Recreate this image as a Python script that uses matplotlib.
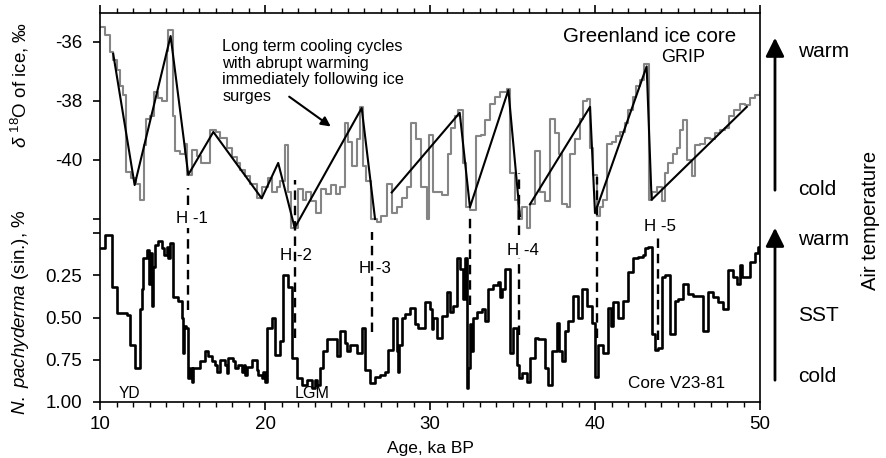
import numpy as np
import matplotlib
matplotlib.use("Agg")
import matplotlib.pyplot as plt
from matplotlib.ticker import MultipleLocator, FixedLocator

plt.rcParams['font.family'] = ['Liberation Sans', 'DejaVu Sans']
plt.rcParams['mathtext.fontset'] = 'custom'
plt.rcParams['mathtext.rm'] = 'Liberation Sans'
plt.rcParams['mathtext.it'] = 'Liberation Sans:italic'

# GRIP delta 18O record (step values, ka BP)
grip_age = [10.0, 10.3, 10.6, 10.8, 11.0, 11.2, 11.4, 11.55, 11.9, 12.2, 12.4, 12.65, 12.8, 13.0,
            13.25, 13.5, 13.75, 14.05, 14.15, 14.4, 14.55, 14.85, 15.15, 15.3, 15.55, 15.85, 16.15,
            16.65, 17.0, 17.3, 17.7, 18.0, 18.3, 18.5, 18.8, 19.1, 19.5, 19.8, 20.0, 20.2, 20.4,
            20.7, 20.9, 21.2, 21.4, 21.6, 22.0, 22.3, 22.5, 22.8, 23.1, 23.4, 23.7, 24.0, 24.3,
            24.55, 24.85, 25.05, 25.25, 25.55, 25.75, 25.95, 26.15, 26.45, 26.8, 27.05, 27.4, 27.7,
            28.0, 28.3, 28.6, 28.85, 29.15, 29.45, 29.8, 29.95, 30.2, 30.4, 30.7, 31.1, 31.3, 31.5,
            31.7, 32.0, 32.2, 32.4, 32.8, 33.1, 33.35, 33.65, 33.95, 34.25, 34.65, 34.85, 35.15,
            35.35, 35.55, 35.85, 36.05, 36.35, 36.65, 36.95, 37.25, 37.55, 37.8, 38.0, 38.3, 38.5,
            38.8, 39.1, 39.3, 39.5, 39.7, 39.9, 40.1, 40.3, 40.5, 40.7, 41.0, 41.3, 41.5, 41.8,
            42.0, 42.3, 42.5, 42.75, 42.95, 43.25, 43.45, 43.75, 44.05, 44.25, 44.45, 44.75, 44.95,
            45.15, 45.35, 45.55, 45.85, 46.05, 46.35, 46.65, 46.95, 47.25, 47.55, 47.85, 48.15,
            48.45, 48.8, 49.1, 49.4, 49.7, 50.0]
grip_d18o = [-35.5, -35.75, -36.35, -36.6, -36.95, -37.5, -37.8, -40.4, -40.6, -40.8, -41.35, -39.5,
             -38.6, -38.5, -37.7, -37.9, -38.0, -36.3, -35.6, -38.5, -39.7, -39.8, -39.45, -40.5,
             -39.65, -39.85, -40.1, -39.0, -39.05, -39.25, -39.6, -39.9, -40.1, -40.35, -40.55,
             -40.8, -41.3, -40.9, -40.9, -40.6, -41.1, -40.9, -40.7, -39.5, -41.1, -42.3, -41.0,
             -41.35, -41.1, -41.4, -41.8, -41.0, -41.15, -40.85, -41.15, -40.9, -38.75, -39.4,
             -40.2, -39.3, -38.2, -40.2, -40.7, -42.0, -42.1, -41.9, -40.8, -41.8, -41.6, -41.3,
             -40.9, -38.75, -39.3, -40.9, -42.0, -39.15, -41.1, -41.1, -41.2, -39.8, -38.9, -38.5,
             -38.3, -40.1, -41.6, -41.7, -39.2, -39.15, -38.64, -38.1, -37.85, -37.7, -37.6, -40.45,
             -41.35, -42.0, -41.6, -42.3, -41.5, -39.7, -41.1, -41.4, -38.6, -39.1, -39.8, -41.5,
             -41.6, -39.8, -39.3, -38.6, -38.0, -37.95, -39.6, -40.5, -41.9, -41.6, -41.35, -39.45,
             -39.4, -39.2, -39.05, -38.75, -38.3, -37.85, -37.5, -37.3, -36.75, -41.35, -41.1,
             -40.9, -41.4, -40.45, -40.1, -39.8, -39.6, -39.0, -38.64, -40.0, -40.55, -39.5,
             -39.45, -39.25, -39.3, -39.1, -39.0, -38.9, -38.5, -38.3, -38.1, -38.15, -37.9, -37.8,
             -37.7]

# sawtooth cooling trends (nan = break)
trend_age = [10.8, 12.1, 14.28, 15.35, 16.87, 19.8, 20.8, 21.8, 25.86, 26.67, np.nan,
             27.68, 31.8, 32.42, 34.75, 35.45, np.nan, 36.06, 39.7, 40.0, 43.13, 43.43, 49.2]
trend_d18o = [-36.4, -40.85, -35.8, -40.5, -39.05, -41.3, -40.1, -42.3, -38.24, -42.0, np.nan,
              -41.1, -38.4, -41.6, -37.63, -41.9, np.nan, -41.5, -38.2, -41.8, -36.83, -41.35, -38.2]

# Core V23-81, N. pachyderma (sin.) fraction
np_age = [10.0, 10.3, 10.71, 11.01, 11.62, 11.82, 12.12, 12.42, 12.52, 12.63, 12.83, 12.95, 13.05,
          13.13, 13.23, 13.33, 13.54, 13.74, 13.9, 14.04, 14.12, 14.24, 14.44, 14.75, 14.95,
          15.05, 15.12, 15.2, 15.35, 15.45, 15.55, 15.66, 16.06, 16.36, 16.57, 16.77, 16.97,
          17.1, 17.27, 17.58, 17.68, 17.78, 18.08, 18.2, 18.38, 18.59, 18.7, 18.8, 18.89, 19.19,
          19.49, 19.6, 19.8, 19.9, 20.0, 20.1, 20.4, 20.6, 20.91, 21.11, 21.41, 21.62, 21.92,
          22.22, 22.53, 22.83, 23.0, 23.13, 23.33, 23.54, 23.74, 24.34, 24.55, 24.85, 24.95,
          25.15, 25.56, 25.86, 26.06, 26.36, 26.67, 26.97, 27.27, 27.47, 27.78, 27.98, 28.05,
          28.15, 28.28, 28.48, 28.79, 29.09, 29.29, 29.7, 30.0, 30.1, 30.2, 30.4, 30.71, 31.01,
          31.21, 31.41, 31.62, 31.82, 32.02, 32.12, 32.22, 32.3, 32.42, 32.5, 32.63, 32.83, 33.13,
          33.33, 33.54, 33.84, 34.14, 34.24, 34.34, 34.55, 34.85, 35.05, 35.25, 35.4, 35.56,
          35.86, 36.06, 36.36, 36.57, 36.97, 37.17, 37.37, 37.68, 37.8, 37.98, 38.18, 38.38,
          38.69, 38.99, 39.19, 39.49, 39.8, 40.0, 40.2, 40.51, 40.81, 40.95, 41.11, 41.41, 41.72,
          42.02, 42.32, 42.63, 42.93, 43.05, 43.23, 43.43, 43.64, 43.84, 44.04, 44.24, 44.55,
          44.85, 45.05, 45.35, 45.66, 45.96, 46.26, 46.57, 46.87, 47.17, 47.47, 47.78, 48.08,
          48.38, 48.59, 48.79, 48.9, 49.09, 49.39, 49.7, 49.9, 50.0]
np_frac = [0.09, 0.012, 0.32, 0.475, 0.485, 0.66, 0.80, 0.45, 0.33, 0.15, 0.10, 0.30, 0.12, 0.43,
           0.20, 0.07, 0.05, 0.09, 0.13, 0.08, 0.15, 0.06, 0.38, 0.40, 0.50, 0.71, 0.55, 0.56,
           0.86, 0.80, 0.88, 0.80, 0.76, 0.70, 0.73, 0.76, 0.78, 0.82, 0.75, 0.78, 0.83, 0.74,
           0.76, 0.80, 0.78, 0.82, 0.78, 0.84, 0.79, 0.75, 0.81, 0.84, 0.86, 0.82, 0.88, 0.56,
           0.50, 0.72, 0.64, 0.25, 0.32, 0.74, 0.86, 0.90, 0.87, 0.92, 0.87, 0.90, 0.80, 0.70,
           0.63, 0.73, 0.58, 0.65, 0.70, 0.66, 0.71, 0.56, 0.81, 0.89, 0.85, 0.84, 0.82, 0.69,
           0.50, 0.70, 0.82, 0.66, 0.50, 0.48, 0.446, 0.54, 0.56, 0.41, 0.45, 0.57, 0.50, 0.62,
           0.49, 0.35, 0.47, 0.43, 0.15, 0.21, 0.39, 0.15, 0.92, 0.80, 0.54, 0.70, 0.50, 0.47,
           0.45, 0.52, 0.33, 0.31, 0.29, 0.38, 0.33, 0.21, 0.71, 0.56, 0.78, 0.86, 0.83, 0.88,
           0.74, 0.62, 0.63, 0.80, 0.90, 0.70, 0.53, 0.70, 0.76, 0.58, 0.52, 0.37, 0.50, 0.33,
           0.43, 0.53, 0.85, 0.66, 0.71, 0.446, 0.55, 0.41, 0.50, 0.40, 0.23, 0.15, 0.14, 0.13,
           0.09, 0.08, 0.60, 0.69, 0.68, 0.26, 0.25, 0.60, 0.40, 0.39, 0.30, 0.36, 0.37, 0.37,
           0.58, 0.35, 0.38, 0.41, 0.45, 0.22, 0.26, 0.30, 0.19, 0.26, 0.26, 0.17, 0.12, 0.08,
           0.16]

# Heinrich events and other ice surges (age, dashed spans in axes fraction)
surge_age = [15.33, 21.8, 26.5, 32.4, 35.4, 40.1, 43.8]
surge_spans = [[(0.506, 0.550), (0.237, 0.447)],
               [(0.165, 0.571)],
               [(0.180, 0.437)],
               [(0.249, 0.481)],
               [(0.429, 0.589), (0.172, 0.370)],
               [(0.165, 0.578)],
               [(0.159, 0.424)]]
h_labels = ['H -1', 'H -2', 'H -3', 'H -4', 'H -5']
h_label_age = [15.58, 21.88, 26.67, 35.64, 43.94]
h_label_d18o = [-41.97, -43.25, -43.66, -43.05, -42.27]

fig = plt.figure(figsize=(8.86, 4.58), dpi=100)
rect = [100 / 886, 56 / 458, 660 / 886, 389 / 458]
ax = fig.add_axes(rect)
ax2 = fig.add_axes(rect, sharex=ax, frameon=False)
ax2.patch.set_visible(False)

ax.step(grip_age, grip_d18o, where='post', color='#858585', lw=1.5, zorder=2)
ax.plot(trend_age, trend_d18o, color='black', lw=1.5, zorder=3)
ax2.step(np_age, np_frac, where='post', color='black', lw=1.9, zorder=3)

for a, spans in zip(surge_age, surge_spans):
    for y0, y1 in spans:
        ax.axvline(a, ymin=y0, ymax=y1, color='black', lw=1.7, ls=(0, (4, 2.5)), zorder=4)

ax.set_xlim(10, 50)
ax.set_ylim(-48.2, -35.02)
ax2.set_ylim(1.0, -1.302)

# x axis: ticks on both top and bottom, outward
ax.xaxis.set_major_locator(MultipleLocator(10))
ax.xaxis.set_minor_locator(MultipleLocator(1))
ax.tick_params(axis='x', which='both', top=True, bottom=True, direction='out', labelsize=13.5,
               pad=4)
ax.tick_params(axis='x', which='major', length=6, width=1.2)
ax.tick_params(axis='x', which='minor', length=3.5, width=1.0)
ax.set_xlabel('Age, ka BP', fontsize=12.5, labelpad=6)

ax.yaxis.set_major_locator(FixedLocator([-42, -40, -38, -36]))
ax.set_yticklabels(['', '-40', '-38', '-36'])
ax.tick_params(axis='y', direction='out', length=5, width=1.2, labelsize=13.5, pad=8)

ax2.yaxis.set_major_locator(FixedLocator([0, 0.25, 0.5, 0.75, 1.0]))
ax2.set_yticklabels(['', '0.25', '0.50', '0.75', '1.00'])
ax2.tick_params(axis='y', direction='out', length=5, width=1.2, labelsize=13.5, pad=8)
ax2.tick_params(axis='x', which='both', bottom=False, top=False, labelbottom=False)

for s in ax.spines.values():
    s.set_linewidth(1.2)

# labels in the plot
ax.text(17.4, -37.0, 'Long term cooling cycles\nwith abrupt warming\nimmediately following ice\nsurges',
        fontsize=11.8, ha='left', va='center', linespacing=1.12)
ax.annotate('', xy=(24.12, -38.92), xytext=(21.33, -37.8),
            arrowprops=dict(arrowstyle='-|>', color='black', lw=1.5, mutation_scale=14))
ax.text(43.33, -35.83, 'Greenland ice core', fontsize=14.8, ha='center', va='center')
ax.text(45.33, -36.54, 'GRIP', fontsize=13, ha='center', va='center')
for lab, a, d in zip(h_labels, h_label_age, h_label_d18o):
    ax.text(a, d, lab, fontsize=12.2, ha='center', va='center')
ax2.text(44.97, 0.888, 'Core V23-81', fontsize=12.3, ha='center', va='center')
ax2.text(11.8, 0.947, 'YD', fontsize=11.2, ha='center', va='center')
ax2.text(22.85, 0.947, 'LGM', fontsize=11.6, ha='center', va='center')

# axis titles
fig.text(0.0226, 0.814, r'$\delta$ $^{18}$O of ice, ‰', rotation=90, fontsize=13.5,
         ha='center', va='center')
fig.text(0.0226, 0.319, r'$\it{N.\ pachyderma}$ (sin.), %', rotation=90, fontsize=13.5,
         ha='center', va='center')

# temperature arrows on the right
for y0, y1 in [(0.5786, 0.9236), (0.1638, 0.5087)]:
    fig.add_artist(matplotlib.patches.FancyArrowPatch(
        (0.8747, y0), (0.8747, y1), transform=fig.transFigure,
        arrowstyle='-|>', mutation_scale=28, lw=2, color='black'))
for y, s in [(0.8865, 'warm'), (0.5852, 'cold'), (0.476, 'warm'), (0.3122, 'SST'), (0.1769, 'cold')]:
    fig.text(0.9007, y, s, fontsize=15, ha='left', va='center')
fig.text(0.982, 0.5197, 'Air temperature', rotation=90, fontsize=14.5, ha='center', va='center')

fig.savefig('out.png', dpi=100, facecolor='white')
